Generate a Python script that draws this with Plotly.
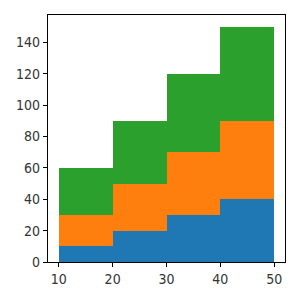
import plotly.graph_objects as go

bin_left = [10, 20, 30, 40]
bin_width = 10
blue = [10, 20, 30, 40]
orange = [20, 30, 40, 50]
green = [30, 40, 50, 60]
colors = ["#1f77b4", "#ff7f0e", "#2ca02c"]

centers = [b + bin_width / 2 for b in bin_left]
fig = go.Figure()
for vals, c in zip([blue, orange, green], colors):
    fig.add_trace(go.Bar(x=centers, y=vals, width=[bin_width] * 4,
                         marker=dict(color=c, line=dict(width=0)), showlegend=False))

axis_common = dict(showline=True, linecolor="black", linewidth=1.2, mirror=True,
                   ticks="outside", ticklen=4, tickcolor="black", tickwidth=1,
                   showgrid=False, zeroline=False,
                   tickfont=dict(family="DejaVu Sans Condensed",
                                 size=14, color="#333"))
fig.update_layout(
    barmode="stack", bargap=0,
    width=300, height=300,
    margin=dict(l=48, r=15, t=15, b=38),
    plot_bgcolor="white", paper_bgcolor="white",
    xaxis=dict(range=[8, 52], tickvals=[10, 20, 30, 40, 50], **axis_common),
    yaxis=dict(range=[0, 157.5], tickvals=[0, 20, 40, 60, 80, 100, 120, 140], **axis_common),
)
fig.write_html("out.html")
